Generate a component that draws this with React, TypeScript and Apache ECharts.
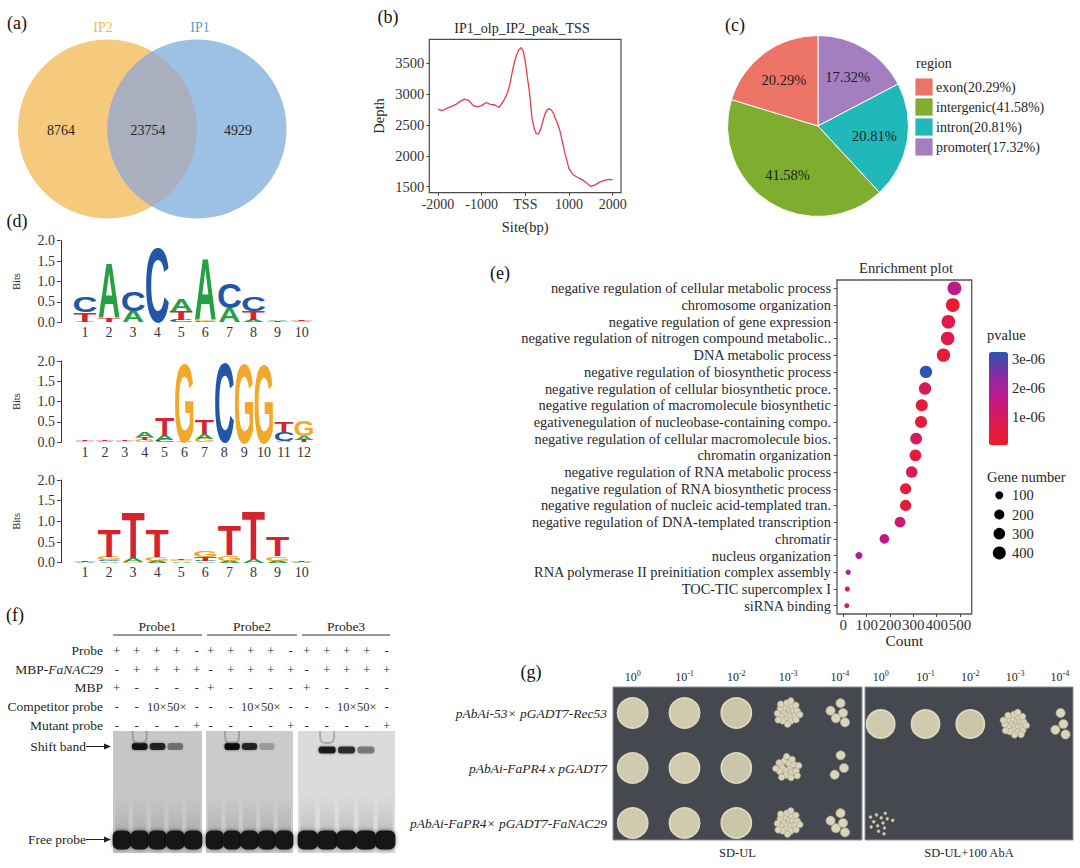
import { useEffect, useRef } from 'react'
import * as echarts from 'echarts'

const SERIF = "'Liberation Serif', 'Times New Roman', serif"
const SANS = "'Liberation Sans', Arial, sans-serif"
const TEXT = '#262626'

// (a) Venn of peak sets
const VENN_SETS = ['IP2', 'IP1']
const VENN_COUNTS = [8764, 23754, 4929]
const VENN_FILL = ['#F6CA7D', '#9DC1E4', '#A9AFBF']
const VENN_LABEL = ['#F2B655', '#5D9AD5']

// (b) read depth around TSS
const TSS_SITE = [
  -2000, -1900, -1800, -1700, -1600, -1500, -1400, -1300, -1200, -1100, -1000, -900, -800, -700,
  -600, -500, -450, -400, -350, -300, -250, -200, -150, -100, -50, 0, 50, 100, 150, 200, 250, 300,
  350, 400, 450, 500, 550, 600, 650, 700, 750, 800, 900, 1000, 1100, 1200, 1300, 1400, 1500, 1600,
  1700, 1800, 1900, 2000,
]
const TSS_DEPTH = [
  2755, 2735, 2770, 2800, 2830, 2880, 2920, 2900, 2820, 2795, 2815, 2865, 2835, 2825, 2785, 2890,
  2960, 3040, 3180, 3360, 3520, 3640, 3720, 3755, 3700, 3520, 3250, 3000, 2620, 2450, 2360, 2355,
  2430, 2560, 2680, 2745, 2765, 2740, 2680, 2580, 2500, 2380, 2060, 1790, 1690, 1650, 1615, 1560,
  1505, 1530, 1575, 1600, 1620, 1610,
]
const SITE_TICKS = [-2000, -1000, 0, 1000, 2000]
const DEPTH_TICKS = [1500, 2000, 2500, 3000, 3500]

// (c) genomic region of peaks
const REGIONS = ['exon', 'intergenic', 'intron', 'promoter']
const REGION_PCT = [20.29, 41.58, 20.81, 17.32]
const REGION_COLORS = ['#EC7466', '#7EAD2F', '#20B8B9', '#A57EC2']
const PIE_ORDER = [3, 2, 1, 0] // clockwise from 12 o'clock

// (d) motifs, each column stacked bottom -> top as [base, bits]
type Stack = [string, number][]
const MOTIF_1: Stack[] = [
  [['A', 0.02], ['T', 0.24], ['C', 0.38]],
  [['T', 0.1], ['A', 1.36]],
  [['A', 0.28], ['C', 0.5]],
  [['C', 1.85]],
  [['C', 0.05], ['T', 0.23], ['A', 0.29]],
  [['C', 0.04], ['G', 0.03], ['A', 1.52]],
  [['A', 0.36], ['C', 0.62]],
  [['A', 0.05], ['T', 0.23], ['C', 0.36]],
  [['T', 0.03], ['A', 0.03]],
  [['A', 0.03], ['T', 0.03]],
]
const MOTIF_2: Stack[] = [
  [['G', 0.02], ['T', 0.02]],
  [['A', 0.02], ['T', 0.04]],
  [['G', 0.02], ['T', 0.02]],
  [['G', 0.06], ['T', 0.07], ['A', 0.12]],
  [['C', 0.05], ['A', 0.12], ['T', 0.44]],
  [['A', 0.02], ['G', 1.95]],
  [['G', 0.08], ['A', 0.12], ['T', 0.35]],
  [['C', 1.98]],
  [['G', 1.98]],
  [['G', 1.97]],
  [['A', 0.04], ['C', 0.22], ['T', 0.26]],
  [['T', 0.05], ['A', 0.1], ['G', 0.38]],
]
const MOTIF_3: Stack[] = [
  [['A', 0.02], ['T', 0.03]],
  [['A', 0.03], ['C', 0.04], ['G', 0.08], ['T', 0.68]],
  [['G', 0.02], ['A', 0.1], ['T', 1.13]],
  [['A', 0.05], ['G', 0.1], ['T', 0.68]],
  [['A', 0.03], ['G', 0.04], ['T', 0.02]],
  [['A', 0.03], ['C', 0.02], ['T', 0.1], ['G', 0.15]],
  [['A', 0.05], ['G', 0.13], ['T', 0.75]],
  [['A', 0.1], ['T', 1.2]],
  [['A', 0.05], ['G', 0.1], ['T', 0.48]],
  [['A', 0.02], ['T', 0.02]],
]
const LETTERS = ['A', 'C', 'G', 'T']
const BASE_COLORS: Record<string, string> = { A: '#25A043', C: '#2157A6', G: '#F2A92B', T: '#D5232F' }
const INK_W: Record<string, number> = { A: 0.72, C: 0.64, G: 0.68, T: 0.58 }

// (e) GO enrichment
const GO_TERMS = [
  'negative regulation of cellular metabolic process',
  'chromosome organization',
  'negative regulation of gene expression',
  'negative regulation of nitrogen compound metabolic..',
  'DNA metabolic process',
  'negative regulation of biosynthetic process',
  'negative regulation of cellular biosynthetic proce.',
  'negative regulation of macromolecule biosynthetic',
  'egativenegulation of nucleobase-containing compo.',
  'negative regulation of cellular macromolecule bios.',
  'chromatin organization',
  'negative regulation of RNA metabolic process',
  'negative regulation of RNA biosynthetic process',
  'negative regulation of nucleic acid-templated tran.',
  'negative regulation of DNA-templated transcription',
  'chromatir',
  'nucleus organization',
  'RNA polymerase II preinitiation complex assembly',
  'TOC-TIC supercomplex I',
  'siRNA binding',
]
const GO_COUNT = [476, 469, 450, 447, 429, 354, 350, 336, 333, 312, 309, 293, 267, 267, 243, 176, 67, 21, 17, 15]
const GO_PVALUE = [
  1.7e-6, 2e-7, 7e-7, 7e-7, 3e-7, 3.24e-6, 9e-7, 3.5e-7, 3.5e-7, 1.05e-6, 4.5e-7, 1.0e-6, 3.5e-7,
  3.5e-7, 1.3e-6, 1.65e-6, 2.0e-6, 1.85e-6, 6e-7, 1.5e-6,
]
const COUNT_TICKS = [0, 100, 200, 300, 400, 500]
const GENE_LEGEND = [100, 200, 300, 400]
const PVALUE_TICKS = [1e-6, 2e-6, 3e-6]
const PVALUE_MAX = 3.24e-6
const PVALUE_COLORS = ['#EC1C27', '#DC1A50', '#C3188A', '#8A2AA5', '#2A56B0']

// (f) EMSA
const PROBE_GROUPS = ['Probe1', 'Probe2', 'Probe3']
const EMSA_ROWS = ['Probe', 'MBP-FaNAC29', 'MBP', 'Competitor probe', 'Mutant probe']
const EMSA_SIGNS = [
  ['+', '+', '+', '+', '-'],
  ['-', '+', '+', '+', '+'],
  ['+', '-', '-', '-', '-'],
  ['-', '-', '10×', '50×', '-'],
  ['-', '-', '-', '-', '+'],
]
const SHIFT_BAND = [
  [0, 0.95, 0.85, 0.45, 0],
  [0, 1, 0.85, 0.22, 0],
  [0, 0.9, 0.8, 0.45, 0],
]
const GEL_SHADE = ['#C7C7C7', '#CBCBCB', '#DBDBDB']

// (g) Y1H spot assay, colonies per spot (-1 = confluent lawn)
const Y1H_ROWS = ['pAbAi-53× pGADT7-Rec53', 'pAbAi-FaPR4 x pGADT7', 'pAbAi-FaPR4× pGADT7-FaNAC29']
const DILUTIONS = ['0', '-1', '-2', '-3', '-4']
const MEDIA = ['SD-UL', 'SD-UL+100 AbA']
const GROWTH = [
  [
    [-1, -1, -1, 24, 5],
    [-1, -1, -1, 18, 3],
    [-1, -1, -1, 24, 5],
  ],
  [
    [-1, -1, -1, 26, 4],
    [0, 0, 0, 0, 0],
    [14, 0, 0, 0, 0],
  ],
]

const CAP = 0.716
const CENTRAL = 0.3465

const dotSize = (c: number) => 3 + 0.5 * Math.sqrt(c)

function logoData(stacks: Stack[]) {
  const out: number[][] = []
  stacks.forEach((col, i) => {
    let y = 0
    col.forEach(([b, h]) => {
      out.push([i + 1, y, y + h, LETTERS.indexOf(b)])
      y += h
    })
  })
  return out
}

function renderLetter(_params: any, api: any) {
  const x = api.value(0)
  const letter = LETTERS[api.value(3)]
  const bl = api.coord([x - 0.46, api.value(1)])
  const tr = api.coord([x + 0.46, api.value(2)])
  const F = 60
  return {
    type: 'text',
    x: (bl[0] + tr[0]) / 2,
    y: bl[1],
    scaleX: (tr[0] - bl[0]) / (INK_W[letter] * F),
    scaleY: Math.max(bl[1] - tr[1], 0.01) / (CAP * F),
    style: {
      text: letter,
      x: 0,
      y: -CENTRAL * F,
      fontSize: F,
      fontFamily: SANS,
      fontWeight: 'bold',
      fill: BASE_COLORS[letter],
      align: 'center',
      verticalAlign: 'middle',
    },
  }
}

function txt(x: number, y: number, text: string, o: any = {}) {
  return {
    type: 'text',
    x,
    y,
    silent: true,
    style: {
      text,
      fontFamily: SERIF,
      fontSize: 13,
      fill: TEXT,
      align: 'center',
      verticalAlign: 'middle',
      ...o,
    },
  }
}

function vennGraphics() {
  const r = 89.5
  const c = [
    [107.5, 129],
    [197, 129],
  ]
  const half = (c[1][0] - c[0][0]) / 2
  const a = Math.acos(half / r)
  const lens: number[][] = []
  for (let k = 0; k <= 40; k++) {
    const t = -a + (2 * a * k) / 40
    lens.push([c[0][0] + r * Math.cos(t), c[0][1] + r * Math.sin(t)])
  }
  for (let k = 0; k <= 40; k++) {
    const t = Math.PI - a + (2 * a * k) / 40
    lens.push([c[1][0] + r * Math.cos(t), c[1][1] + r * Math.sin(t)])
  }
  return [
    { type: 'circle', shape: { cx: c[0][0], cy: c[0][1], r }, style: { fill: VENN_FILL[0] } },
    { type: 'circle', shape: { cx: c[1][0], cy: c[1][1], r }, style: { fill: VENN_FILL[1] } },
    { type: 'polygon', shape: { points: lens }, style: { fill: VENN_FILL[2] } },
    txt(103, 27, VENN_SETS[0], { fill: VENN_LABEL[0], fontSize: 14 }),
    txt(200, 27, VENN_SETS[1], { fill: VENN_LABEL[1], fontSize: 14 }),
    txt(61, 130, String(VENN_COUNTS[0]), { fontSize: 14 }),
    txt(148, 130, String(VENN_COUNTS[1]), { fontSize: 14 }),
    txt(238, 130, String(VENN_COUNTS[2]), { fontSize: 14 }),
  ]
}

function pieLegendGraphics() {
  const out: any[] = [txt(916, 63, 'region', { align: 'left', fontSize: 14 })]
  REGIONS.forEach((name, i) => {
    const y = 78 + i * 20
    out.push({
      type: 'rect',
      shape: { x: 915, y, width: 18, height: 18 },
      style: { fill: REGION_COLORS[i], stroke: '#fff', lineWidth: 0.8 },
    })
    out.push(txt(936, y + 9.5, `${name}(${REGION_PCT[i].toFixed(2)}%)`, { align: 'left', fontSize: 14 }))
  })
  return out
}

function emsaGraphics() {
  const out: any[] = []
  const laneStart = [116.7, 210.7, 306.7]
  const groupLine = [
    [113, 202],
    [207, 297],
    [302, 390],
  ]
  const rowY = [650.7, 669.3, 687.7, 706.7, 725.7]
  const gelX = [113, 206, 298]
  const gelW = [89, 87, 97]
  const gelTop = 731
  const gelBottom = 853

  PROBE_GROUPS.forEach((name, g) => {
    out.push(txt((groupLine[g][0] + groupLine[g][1]) / 2, 626, name, { fontSize: 13.5 }))
    out.push({
      type: 'line',
      shape: { x1: groupLine[g][0], y1: 635, x2: groupLine[g][1], y2: 635 },
      style: { stroke: '#333', lineWidth: 1 },
    })
    EMSA_SIGNS.forEach((row, ri) => {
      row.forEach((s, li) => {
        out.push(txt(laneStart[g] + li * 20, rowY[ri], s, { fontSize: s.length > 1 ? 12.5 : 13, fill: '#333' }))
      })
    })
  })
  EMSA_ROWS.forEach((name, ri) => {
    if (name === 'MBP-FaNAC29') {
      out.push(
        txt(103, rowY[ri], '{n|MBP-}{i|FaNAC29}', {
          align: 'right',
          rich: {
            n: { fontFamily: SERIF, fontSize: 13.5, fill: TEXT },
            i: { fontFamily: SERIF, fontSize: 13.5, fill: TEXT, fontStyle: 'italic' },
          },
        }),
      )
    } else {
      out.push(txt(103, rowY[ri], name, { align: 'right', fontSize: 13.5 }))
    }
  })

  gelX.forEach((gx, g) => {
    const w = gelW[g]
    const lw = w / 5
    out.push({
      type: 'rect',
      shape: { x: gx, y: gelTop, width: w, height: gelBottom - gelTop },
      style: { fill: GEL_SHADE[g] },
    })
    for (let li = 0; li < 5; li++) {
      const cx = gx + (li + 0.5) * lw
      // faint smear above free probe
      out.push({
        type: 'rect',
        shape: { x: cx - lw * 0.38, y: 795, width: lw * 0.76, height: 38 },
        style: {
          fill: {
            type: 'linear',
            x: 0,
            y: 0,
            x2: 0,
            y2: 1,
            colorStops: [
              { offset: 0, color: 'rgba(70,70,70,0)' },
              { offset: 1, color: 'rgba(50,50,50,0.16)' },
            ],
          },
        },
      })
      out.push({
        type: 'rect',
        shape: { x: cx - lw * 0.52, y: 830.5, width: lw * 1.04, height: 19, r: 6 },
        style: { fill: '#141414', shadowBlur: 4, shadowColor: 'rgba(0,0,0,0.55)' },
      })
      const k = SHIFT_BAND[g][li]
      if (k > 0) {
        out.push({
          type: 'rect',
          shape: { x: cx - lw * 0.44, y: (g === 2 ? 750 : 746.5) - 3.5, width: lw * 0.88, height: 7, r: 3 },
          style: { fill: `rgba(15,15,15,${k})`, shadowBlur: 3, shadowColor: `rgba(0,0,0,${k * 0.5})` },
        })
      }
      if (li === 1) {
        out.push({
          type: 'polyline',
          shape: {
            points: [
              [cx - 7, gelTop],
              [cx - 6, gelTop + 10],
              [cx, gelTop + 12],
              [cx + 6, gelTop + 10],
              [cx + 7, gelTop],
            ],
            smooth: 0.3,
          },
          style: { stroke: 'rgba(90,90,90,0.4)', lineWidth: 1.8, fill: null },
        })
      }
    }
  })

  const arrow = (y: number, label: string) => {
    out.push(txt(86, y, label, { align: 'right', fontSize: 13.5 }))
    out.push({ type: 'line', shape: { x1: 86, y1: y, x2: 106, y2: y }, style: { stroke: '#222', lineWidth: 1 } })
    out.push({
      type: 'polygon',
      shape: {
        points: [
          [104, y - 3],
          [111, y],
          [104, y + 3],
        ],
      },
      style: { fill: '#222' },
    })
  }
  arrow(746.5, 'Shift band')
  arrow(839.5, 'Free probe')
  return out
}

function yeastGraphics() {
  const out: any[] = []
  const plates = [
    { x: 613, w: 249, col0: 632.7, step: 51.8, lawn: 15 },
    { x: 865, w: 208, col0: 880.7, step: 44.8, lawn: 14 },
  ]
  const top = 687
  const bottom = 840
  const rowY = [713, 768, 823]
  plates.forEach((p, pi) => {
    out.push({
      type: 'rect',
      shape: { x: p.x, y: top, width: p.w, height: bottom - top },
      style: { fill: '#46484F', stroke: '#8d8f95', lineWidth: 1 },
    })
    DILUTIONS.forEach((d, ci) => {
      out.push(
        txt(p.col0 + ci * p.step, 677, `{b|10}{s|${d}}`, {
          rich: {
            b: { fontFamily: SERIF, fontSize: 12, fill: TEXT, lineHeight: 16 },
            s: { fontFamily: SERIF, fontSize: 8, fill: TEXT, lineHeight: 8, verticalAlign: 'top' },
          },
        }),
      )
    })
    out.push(txt(p.x + p.w / 2, 853, MEDIA[pi], { fontSize: 12.5 }))
    GROWTH[pi].forEach((row, ri) => {
      row.forEach((n, ci) => {
        const cx = p.col0 + ci * p.step
        const cy = rowY[ri] + (pi === 1 && ri === 0 ? 11 : 0)
        if (n < 0) {
          out.push({
            type: 'circle',
            shape: { cx, cy, r: p.lawn },
            style: { fill: ci === 2 ? '#CBC5A9' : '#D0CAAE', stroke: '#DED8BF', lineWidth: 1.8 },
          })
          return
        }
        const cr = ci === 3 ? 3.3 : ci === 4 ? 4.6 : 1.5
        const R = ci === 4 ? 10 : 12.5
        for (let k = 0; k < n; k++) {
          const rr = R * Math.sqrt((k + 0.5) / n)
          const th = k * 2.39996
          out.push({
            type: 'circle',
            shape: { cx: cx + rr * Math.cos(th), cy: cy + rr * Math.sin(th) * (ci === 4 ? 1.4 : 1), r: cr },
            style: { fill: '#DAD4BB', stroke: '#A9A38B', lineWidth: 0.6 },
          })
        }
      })
    })
  })
  Y1H_ROWS.forEach((name, ri) => {
    out.push(txt(607, rowY[ri], name, { align: 'right', fontStyle: 'italic', fontSize: 13.5 }))
  })
  return out
}

function enrichLegendGraphics() {
  const out: any[] = []
  out.push(txt(987, 335, 'pvalue', { align: 'left', fontSize: 14.5 }))
  PVALUE_TICKS.forEach((v) => {
    const y = 352 + (1 - v / PVALUE_MAX) * 93.3
    out.push(txt(1012, y, v.toExponential(0).replace('e-', 'e-0'), { align: 'left', fontSize: 14.5 }))
  })
  out.push(txt(987, 477, 'Gene number', { align: 'left', fontSize: 14.5 }))
  GENE_LEGEND.forEach((g, i) => {
    const y = 495.3 + i * 19.2
    out.push({ type: 'circle', shape: { cx: 999.3, cy: y, r: dotSize(g) / 2 }, style: { fill: '#000' } })
    out.push(txt(1012, y, String(g), { align: 'left', fontSize: 14.5 }))
  })
  return out
}

function panelLetters() {
  const L: [string, number, number][] = [
    ['(a)', 17, 23],
    ['(b)', 388, 17],
    ['(c)', 735, 25],
    ['(d)', 17, 221],
    ['(e)', 500, 273],
    ['(f)', 15, 615],
    ['(g)', 531, 672],
  ]
  return L.map(([t, x, y]) => txt(x, y, t, { fontSize: 18, fill: '#111' }))
}

const logoGrids = [
  { left: 60.9, top: 240.7, width: 264.8, height: 81.6, min: 0, max: 11, n: 10 },
  { left: 61.1, top: 361, width: 258.7, height: 81.3, min: -0.2, max: 12.8, n: 12 },
  { left: 60.9, top: 480, width: 264.8, height: 82.7, min: 0, max: 11, n: 10 },
]
const MOTIFS = [MOTIF_1, MOTIF_2, MOTIF_3]

function buildOption(): echarts.EChartsCoreOption {
  const axisText = { fontFamily: SERIF, color: '#333' }
  const tickLine = { lineStyle: { color: '#444', width: 1 } }

  const grids: any[] = [
    { left: 429.3, top: 39.3, width: 191.7, height: 153.4, show: true, borderColor: '#4a4a4a', borderWidth: 1.2 },
    ...logoGrids.map((g) => ({ left: g.left, top: g.top, width: g.width, height: g.height })),
    { left: 837, top: 280, width: 134.7, height: 334, show: true, borderColor: '#555', borderWidth: 1.3 },
  ]

  const xAxes: any[] = [
    {
      gridIndex: 0,
      type: 'value',
      min: -2200,
      max: 2190,
      axisLine: { show: false, onZero: false },
      axisTick: { show: true, length: 3, customValues: SITE_TICKS, ...tickLine },
      axisLabel: {
        ...axisText,
        fontSize: 14,
        margin: 5,
        customValues: SITE_TICKS,
        formatter: (v: number) => (v === 0 ? 'TSS' : String(v)),
      },
      splitLine: { show: false },
      name: 'Site(bp)',
      nameLocation: 'middle',
      nameGap: 27,
      nameTextStyle: { ...axisText, fontSize: 14.5, color: TEXT },
    },
    ...logoGrids.map((g, i) => ({
      gridIndex: i + 1,
      type: 'value',
      min: g.min,
      max: g.max,
      axisLine: { show: false, onZero: false },
      axisTick: { show: false },
      splitLine: { show: false },
      axisLabel: {
        ...axisText,
        fontSize: 14,
        margin: 3,
        customValues: Array.from({ length: g.n }, (_, k) => k + 1),
      },
    })),
    {
      gridIndex: 4,
      type: 'value',
      min: -27,
      max: 550,
      axisLine: { show: false, onZero: false },
      axisTick: { show: true, length: 3, customValues: COUNT_TICKS, ...tickLine },
      axisLabel: { ...axisText, fontSize: 15, margin: 3, customValues: COUNT_TICKS },
      splitLine: { show: false },
      name: 'Count',
      nameLocation: 'middle',
      nameGap: 18,
      nameTextStyle: { ...axisText, fontSize: 15.5, color: TEXT },
    },
  ]

  const yAxes: any[] = [
    {
      gridIndex: 0,
      type: 'value',
      min: 1403,
      max: 3890,
      axisLine: { show: false, onZero: false },
      axisTick: { show: true, length: 3, customValues: DEPTH_TICKS, ...tickLine },
      axisLabel: {
        ...axisText,
        fontSize: 14.5,
        margin: 5,
        customValues: DEPTH_TICKS,
        formatter: (v: number) => String(v),
      },
      splitLine: { show: false },
      name: 'Depth',
      nameLocation: 'middle',
      nameGap: 43,
      nameTextStyle: { ...axisText, fontSize: 14.5, color: TEXT },
    },
    ...logoGrids.map((_, i) => ({
      gridIndex: i + 1,
      type: 'value',
      min: 0,
      max: 2,
      interval: 0.5,
      axisLine: { show: true, onZero: false, lineStyle: { color: '#333', width: 1 } },
      axisTick: { show: true, length: 4, ...tickLine },
      axisLabel: { ...axisText, fontSize: 14, margin: 6, formatter: (v: number) => v.toFixed(1) },
      splitLine: { show: false },
      name: 'Bits',
      nameLocation: 'middle',
      nameGap: 39,
      nameTextStyle: { ...axisText, fontSize: 10.5, color: TEXT },
    })),
    {
      gridIndex: 4,
      type: 'category',
      data: GO_TERMS,
      inverse: true,
      axisLine: { show: false, onZero: false },
      axisTick: { show: true, length: 3, alignWithLabel: true, interval: 0, ...tickLine },
      axisLabel: { ...axisText, fontSize: 14.4, margin: 6, color: '#2a2a2a', interval: 0 },
      splitLine: { show: false },
    },
  ]

  const pieData = PIE_ORDER.map((i) => ({
    name: REGIONS[i],
    value: REGION_PCT[i],
    itemStyle: { color: REGION_COLORS[i] },
  }))

  return {
    animation: false,
    textStyle: { fontFamily: SERIF },
    grid: grids,
    xAxis: xAxes,
    yAxis: yAxes,
    visualMap: {
      type: 'continuous',
      seriesIndex: 6,
      dimension: 2,
      min: 0,
      max: PVALUE_MAX,
      left: 989,
      top: 352,
      itemWidth: 19,
      itemHeight: 93.3,
      padding: 0,
      calculable: false,
      hoverLink: false,
      inRange: { color: PVALUE_COLORS },
    },
    series: [
      {
        type: 'line',
        xAxisIndex: 0,
        yAxisIndex: 0,
        data: TSS_SITE.map((s, i) => [s, TSS_DEPTH[i]]),
        smooth: false,
        symbol: 'none',
        lineStyle: { color: '#E53B4C', width: 1.3, join: 'round' },
      },
      {
        type: 'pie',
        center: [818, 126],
        radius: 90.5,
        startAngle: 90,
        clockwise: true,
        data: pieData,
        label: { show: false },
        labelLine: { show: false },
        itemStyle: { borderColor: '#fff', borderWidth: 1 },
        emphasis: { disabled: true },
      },
      {
        type: 'pie',
        center: [818, 126],
        radius: 108.6,
        startAngle: 90,
        clockwise: true,
        silent: true,
        data: pieData.map((d) => ({ name: d.name, value: d.value })),
        itemStyle: { color: 'rgba(0,0,0,0)' },
        label: {
          show: true,
          position: 'inside',
          formatter: (p: any) => `${p.value.toFixed(2)}%`,
          fontFamily: SERIF,
          fontSize: 14.5,
          color: '#1e1e1e',
        },
        labelLine: { show: false },
        emphasis: { disabled: true },
      },
      ...MOTIFS.map((m, i) => ({
        type: 'custom',
        xAxisIndex: i + 1,
        yAxisIndex: i + 1,
        data: logoData(m),
        encode: { x: 0, y: [1, 2] },
        renderItem: renderLetter,
        silent: true,
      })),
      {
        type: 'scatter',
        xAxisIndex: 4,
        yAxisIndex: 4,
        data: GO_COUNT.map((c, i) => [c, i, GO_PVALUE[i]]),
        symbolSize: (v: number[]) => dotSize(v[0]),
        itemStyle: { opacity: 1 },
      },
    ],
    graphic: {
      elements: [
        ...panelLetters(),
        ...vennGraphics(),
        txt(522, 28, 'IP1_olp_IP2_peak_TSS', { fontSize: 14 }),
        ...pieLegendGraphics(),
        txt(906, 268, 'Enrichment plot', { fontSize: 14.5 }),
        ...enrichLegendGraphics(),
        ...emsaGraphics(),
        ...yeastGraphics(),
      ],
    },
  }
}

export default function App() {
  const ref = useRef<HTMLDivElement>(null)

  useEffect(() => {
    const el = ref.current
    if (!el) return
    const chart = echarts.init(el, undefined, { renderer: 'svg' })
    chart.setOption(buildOption())
    return () => {
      chart.dispose()
    }
  }, [])

  return (
    <div
      ref={ref}
      style={{ position: 'absolute', left: 0, top: 0, width: 1080, height: 868, background: '#fff' }}
    />
  )
}
